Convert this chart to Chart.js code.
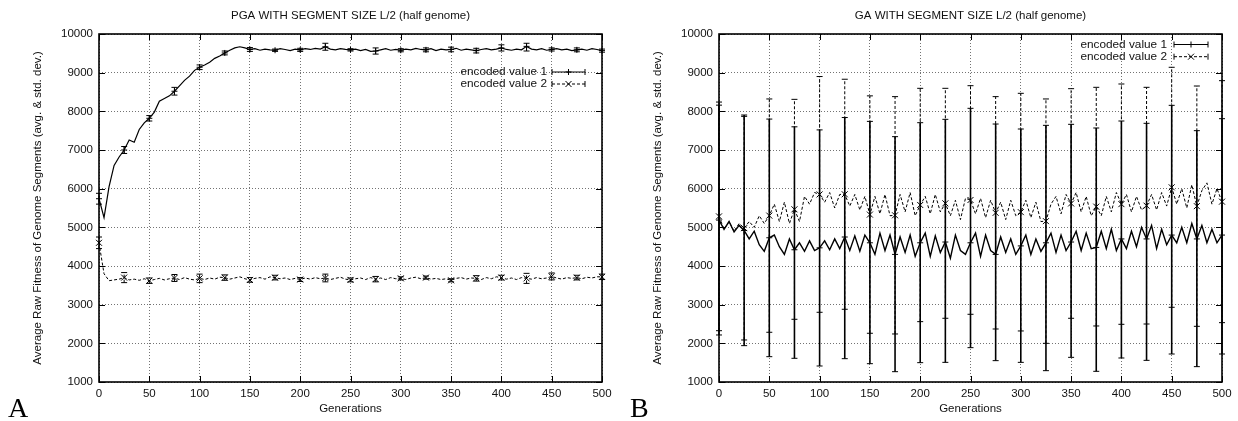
<!DOCTYPE html>
<html>
<head>
<meta charset="utf-8">
<script src="https://cdn.jsdelivr.net/npm/chart.js@4.4.1/dist/chart.umd.min.js"></script>
<style>
html, body { margin: 0; padding: 0; background: #fff; overflow: hidden; }
#wrap { position: relative; width: 1238px; height: 421px; }
.panel { position: absolute; top: 0; width: 619px; height: 421px; }
#panelA { left: 0; }
#panelB { left: 620px; }
</style>
</head>
<body>
<div id="wrap">
  <div class="panel" id="panelA"><canvas id="chartA" width="619" height="421"></canvas></div>
  <div class="panel" id="panelB"><canvas id="chartB" width="619" height="421"></canvas></div>
</div>
<script>
// generations sampled every 5 (x categories)
const gens = [];
for (let g = 0; g <= 500; g += 5) gens.push(g);

// generations where error bars are drawn
const errGens = [0, 25, 50, 75, 100, 125, 150, 175, 200, 225, 250, 275, 300, 325, 350, 375, 400, 425, 450, 475, 500];

const yTicks = [1000, 2000, 3000, 4000, 5000, 6000, 7000, 8000, 9000, 10000];
const xTicks = [0, 50, 100, 150, 200, 250, 300, 350, 400, 450, 500];

const seriesNames = ['encoded value 1', 'encoded value 2'];

// ---- panel A: PGA ----
const pgaValue1 = [
  5740, 5250, 6050, 6600, 6820, 7000, 7260, 7200, 7530, 7700,
  7820, 7980, 8260, 8330, 8400, 8520, 8660, 8800, 8910, 9060,
  9140, 9200, 9270, 9370, 9430, 9510, 9580, 9640, 9670, 9640,
  9600, 9620, 9580, 9610, 9590, 9580, 9620, 9600, 9570, 9610,
  9590, 9620, 9600, 9630, 9610, 9670, 9610, 9590, 9620, 9600,
  9590, 9610, 9570, 9600, 9550, 9560, 9590, 9620, 9580, 9600,
  9580, 9610, 9590, 9630, 9600, 9590, 9620, 9570, 9610, 9590,
  9600, 9630, 9580, 9610, 9590, 9570, 9600, 9620, 9590, 9610,
  9640, 9600, 9580, 9610, 9590, 9680, 9610, 9590, 9620, 9580,
  9600, 9620, 9590, 9610, 9570, 9590, 9610, 9580, 9620, 9600,
  9570
];
const pgaValue2 = [
  4600, 3800, 3620, 3640, 3660, 3700, 3640, 3660, 3630, 3670,
  3620, 3650, 3680, 3640, 3670, 3690, 3650, 3700, 3660, 3640,
  3680, 3650, 3690, 3660, 3710, 3700, 3660, 3690, 3720, 3670,
  3640, 3680, 3700, 3660, 3720, 3700, 3670, 3690, 3650, 3680,
  3650, 3690, 3660, 3700, 3670, 3690, 3650, 3680, 3710, 3660,
  3640, 3670, 3690, 3650, 3700, 3660, 3690, 3650, 3700, 3670,
  3680, 3650, 3690, 3710, 3670, 3700, 3660, 3680, 3650, 3670,
  3630, 3680, 3700, 3660, 3690, 3680, 3650, 3700, 3670, 3720,
  3700, 3660, 3690, 3650, 3700, 3680, 3660, 3700, 3670, 3690,
  3730, 3690, 3660, 3700, 3680, 3700, 3670, 3710, 3690, 3720,
  3720
];
const pgaLow1  = [5600, 6910, 7750, 8420, 9080, 9460, 9550, 9550, 9550, 9580, 9560, 9480, 9540, 9540, 9540, 9510, 9560, 9560, 9560, 9540, 9530];
const pgaHigh1 = [5880, 7090, 7890, 8620, 9200, 9560, 9650, 9610, 9630, 9760, 9620, 9640, 9620, 9640, 9660, 9630, 9720, 9760, 9640, 9640, 9610];
const pgaLow2  = [4450, 3570, 3550, 3600, 3570, 3630, 3580, 3640, 3600, 3590, 3590, 3590, 3640, 3660, 3590, 3610, 3640, 3550, 3640, 3640, 3650];
const pgaHigh2 = [4750, 3830, 3690, 3780, 3790, 3770, 3700, 3760, 3700, 3790, 3690, 3730, 3720, 3740, 3670, 3750, 3760, 3810, 3820, 3760, 3790];

// ---- panel B: GA ----
const gaValue1 = [
  5188, 4950, 5150, 4880, 5050, 4920, 4700, 4900, 4550, 4380,
  4730, 4800, 4500, 4300, 4700, 4420, 4600, 4380, 4650, 4400,
  4470, 4650, 4420, 4700, 4450, 4750, 4400, 4780, 4380, 4800,
  4600, 4300, 4850, 4400, 4800, 4300, 4750, 4350, 4800, 4250,
  4600, 4850, 4250, 4780, 4350, 4620, 4200, 4800, 4400, 4300,
  4600, 4850, 4250, 4800, 4400, 4300, 4750, 4350, 4700, 4300,
  4520, 4800, 4300, 4700, 4380, 4600, 4850, 4350, 4800, 4400,
  4620, 4900, 4400, 4850, 4450, 4480, 4900, 4450, 4950, 4400,
  4700, 4450, 4900, 4500, 5000, 4700, 5050, 4450, 4950, 4550,
  4800, 4600, 5000, 4600, 5100, 4700, 5050, 4600, 4950, 4600,
  4800
];
const gaValue2 = [
  5283, 4950, 5150, 4900, 5100, 4978, 5150, 5000, 5300, 5100,
  5303, 5600, 5150, 5650, 5100, 5466, 5150, 5800, 5600, 5900,
  5851, 5650, 5900, 5500, 5850, 5855, 5550, 5850, 5450, 5800,
  5330, 5800, 5350, 5850, 5300, 5311, 5850, 5400, 5900, 5300,
  5578, 5800, 5350, 5850, 5400, 5621, 5300, 5700, 5200, 5750,
  5707, 5350, 5750, 5250, 5700, 5375, 5650, 5200, 5700, 5300,
  5393, 5700, 5250, 5650, 5150, 5160, 5600, 5800, 5350, 5850,
  5617, 5900, 5400, 5800, 5300, 5535, 5300, 5800, 5400, 5900,
  5600, 5850, 5400, 5800, 5450, 5560, 5850, 5450, 5900, 5550,
  6035, 5600, 6000, 5500, 6100, 5548, 5950, 6150, 5600, 6000,
  5664
];
const gaLow1  = [2216, 1940, 1655, 1613, 1414, 1603, 1474, 1267, 1500, 1508, 1888, 1552, 1508, 1293, 1638, 1276, 1621, 1560, 1724, 1397, 1724];
const gaHigh1 = [8160, 7905, 7800, 7600, 7520, 7840, 7740, 7345, 7706, 7793, 8078, 7672, 7543, 7638, 7664, 7569, 7750, 7690, 8155, 7500, 7810];
const gaLow2  = [2327, 2087, 2286, 2622, 2803, 2881, 2260, 2242, 2561, 2648, 2751, 2371, 2320, 2000, 2648, 2449, 2492, 2500, 2932, 2440, 2535];
const gaHigh2 = [8240, 7870, 8320, 8310, 8900, 8830, 8400, 8380, 8595, 8595, 8663, 8380, 8466, 8320, 8586, 8621, 8707, 8621, 9139, 8655, 8793];

const FONT = "'Liberation Sans', Arial, Helvetica, sans-serif";
const DASH2 = [3, 2];

function toPoints(vals) {
  return vals.map((v, i) => ({ x: gens[i], y: v }));
}

function drawMarker(ctx, x, y, kind) {
  const s = 3;
  ctx.beginPath();
  if (kind === 'plus') {
    ctx.moveTo(x - s, y); ctx.lineTo(x + s, y);
    ctx.moveTo(x, y - s); ctx.lineTo(x, y + s);
  } else {
    ctx.moveTo(x - s, y - s); ctx.lineTo(x + s, y + s);
    ctx.moveTo(x - s, y + s); ctx.lineTo(x + s, y - s);
  }
  ctx.stroke();
}

// gnuplot look: frame, inward ticks, error bars, title, key, panel letter
const gnuplotDecor = {
  id: 'gnuplotDecor',
  afterDatasetsDraw(chart, args, opts) {
    const ctx = chart.ctx, xs = chart.scales.x, ys = chart.scales.y;
    ctx.save();
    ctx.strokeStyle = '#000';
    for (const b of opts.bars) {
      ctx.lineWidth = b.width;
      ctx.setLineDash(b.dash);
      errGens.forEach((g, i) => {
        const px = xs.getPixelForValue(g);
        const lo = ys.getPixelForValue(b.low[i]);
        const hi = ys.getPixelForValue(b.high[i]);
        ctx.beginPath();
        ctx.moveTo(px, lo); ctx.lineTo(px, hi);
        ctx.stroke();
        ctx.save();
        ctx.setLineDash([]);
        ctx.lineWidth = 1;
        ctx.beginPath();
        ctx.moveTo(px - 3, lo); ctx.lineTo(px + 3, lo);
        ctx.moveTo(px - 3, hi); ctx.lineTo(px + 3, hi);
        ctx.stroke();
        const mean = b.line[gens.indexOf(g)];
        drawMarker(ctx, px, ys.getPixelForValue(mean), b.marker);
        ctx.restore();
      });
    }
    ctx.restore();
  },
  afterDraw(chart, args, opts) {
    const ctx = chart.ctx, a = chart.chartArea, xs = chart.scales.x, ys = chart.scales.y;
    ctx.save();
    ctx.setLineDash([]);
    ctx.strokeStyle = '#000';

    // inward tick marks
    ctx.lineWidth = 1;
    ctx.beginPath();
    for (const v of yTicks) {
      const py = Math.round(ys.getPixelForValue(v)) + 0.5;
      ctx.moveTo(a.left, py); ctx.lineTo(a.left + 6, py);
      ctx.moveTo(a.right - 6, py); ctx.lineTo(a.right, py);
    }
    for (const v of xTicks) {
      const px = Math.round(xs.getPixelForValue(v)) + 0.5;
      ctx.moveTo(px, a.bottom); ctx.lineTo(px, a.bottom - 6);
      ctx.moveTo(px, a.top); ctx.lineTo(px, a.top + 6);
    }
    ctx.stroke();

    // frame
    ctx.lineWidth = 1.6;
    ctx.strokeRect(a.left, a.top, a.right - a.left, a.bottom - a.top);

    // title
    ctx.fillStyle = '#111';
    ctx.font = '11.5px ' + FONT;
    ctx.textAlign = 'center';
    ctx.textBaseline = 'middle';
    ctx.fillText(opts.title, (a.left + a.right) / 2, 16);

    // key
    const k = opts.key;
    ctx.font = '11.8px ' + FONT;
    ctx.textAlign = 'right';
    seriesNames.forEach((name, i) => {
      const y = k.rows[i];
      ctx.fillStyle = '#111';
      ctx.fillText(name, k.xText, y);
      ctx.lineWidth = 1;
      ctx.setLineDash(i === 0 ? [] : DASH2);
      ctx.beginPath();
      ctx.moveTo(k.x0, y); ctx.lineTo(k.x1, y);
      ctx.stroke();
      ctx.setLineDash([]);
      ctx.beginPath();
      ctx.moveTo(k.x0, y - 3); ctx.lineTo(k.x0, y + 3);
      ctx.moveTo(k.x1, y - 3); ctx.lineTo(k.x1, y + 3);
      ctx.stroke();
      drawMarker(ctx, (k.x0 + k.x1) / 2, y, i === 0 ? 'plus' : 'cross');
    });

    // panel letter
    ctx.fillStyle = '#000';
    ctx.font = "28px 'Liberation Serif', 'Times New Roman', serif";
    ctx.textAlign = 'left';
    ctx.textBaseline = 'alphabetic';
    ctx.fillText(opts.letter, opts.letterX, 417);
    ctx.restore();
  }
};

function makeChart(canvasId, v1, v2, w1, bars, title, key, letter, letterX) {
  return new Chart(document.getElementById(canvasId).getContext('2d'), {
    type: 'line',
    data: {
      datasets: [
        { label: seriesNames[0], data: toPoints(v1), borderColor: '#000', borderWidth: w1,
          pointRadius: 0, tension: 0, fill: false },
        { label: seriesNames[1], data: toPoints(v2), borderColor: '#000', borderWidth: 1,
          borderDash: DASH2, pointRadius: 0, tension: 0, fill: false }
      ]
    },
    options: {
      responsive: false,
      animation: false,
      devicePixelRatio: 1,
      layout: { padding: { top: 34, right: 17, bottom: 0, left: 0 } },
      plugins: {
        legend: { display: false },
        tooltip: { enabled: false },
        gnuplotDecor: { bars, title, key, letter, letterX }
      },
      scales: {
        x: {
          type: 'linear', min: 0, max: 500,
          afterFit: s => { s.height = 39; },
          afterBuildTicks: s => { s.ticks = xTicks.map(v => ({ value: v })); },
          ticks: { color: '#111', padding: 5, maxRotation: 0, autoSkip: false,
                   font: { family: FONT, size: 11.5 }, callback: v => String(v) },
          grid: { color: 'rgba(0,0,0,0.55)', lineWidth: 1, drawTicks: false },
          border: { display: false, dash: [1, 2] },
          title: { display: true, text: 'Generations', color: '#111',
                   font: { family: FONT, size: 11.5 }, padding: { top: 0, bottom: 5.5 } }
        },
        y: {
          type: 'linear', min: 1000, max: 10000,
          afterFit: s => { s.width = 99; },
          afterBuildTicks: s => { s.ticks = yTicks.map(v => ({ value: v })); },
          ticks: { color: '#111', padding: 6, autoSkip: false,
                   font: { family: FONT, size: 11.5 }, callback: v => String(v) },
          grid: { color: 'rgba(0,0,0,0.55)', lineWidth: 1, drawTicks: false },
          border: { display: false, dash: [1, 2] },
          title: { display: true, text: 'Average Raw Fitness of Genome Segments (avg. & std. dev.)',
                   color: '#111', font: { family: FONT, size: 11.5 }, padding: { top: 31, bottom: 0 } }
        }
      }
    },
    plugins: [gnuplotDecor]
  });
}

makeChart('chartA', pgaValue1, pgaValue2, 1.2, [
  { low: pgaLow1, high: pgaHigh1, line: pgaValue1, dash: [], width: 1, marker: 'plus' },
  { low: pgaLow2, high: pgaHigh2, line: pgaValue2, dash: DASH2, width: 1, marker: 'cross' }
], 'PGA WITH SEGMENT SIZE L/2 (half genome)',
  { xText: 547, x0: 552, x1: 585, rows: [72, 84] }, 'A', 8);

makeChart('chartB', gaValue1, gaValue2, 1.4, [
  { low: gaLow1, high: gaHigh1, line: gaValue1, dash: [], width: 1.6, marker: 'plus' },
  { low: gaLow2, high: gaHigh2, line: gaValue2, dash: DASH2, width: 1, marker: 'cross' }
], 'GA WITH SEGMENT SIZE L/2 (half genome)',
  { xText: 547, x0: 554, x1: 588, rows: [44.5, 56.7] }, 'B', 10);
</script>
</body>
</html>
